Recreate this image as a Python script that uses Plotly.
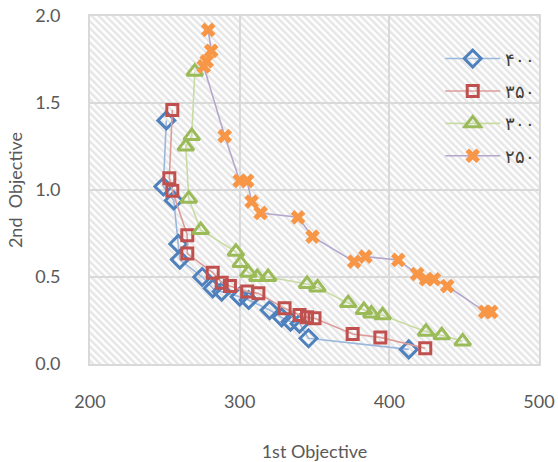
import base64
import plotly.graph_objects as go

# ---- data ----
names = ["۴۰۰", "۳۵۰", "۳۰۰", "۲۵۰"]

x400 = [251, 249, 256, 259, 260, 275, 282, 288, 300, 306, 320, 328, 334, 340, 346, 413]
y400 = [1.40, 1.02, 0.94, 0.69, 0.60, 0.50, 0.435, 0.416, 0.387, 0.368, 0.31, 0.268, 0.243, 0.232, 0.148, 0.084]

x350 = [255, 253, 255, 265, 265, 282, 288, 293.5, 305, 312.5, 330, 340, 345, 350, 375.5, 394, 424]
y350 = [1.46, 1.067, 0.996, 0.74, 0.635, 0.525, 0.467, 0.448, 0.416, 0.406, 0.32, 0.282, 0.268, 0.263, 0.172, 0.153, 0.09]

x300 = [270, 268, 264, 266, 274, 297.5, 300.7, 305.8, 311.8, 319, 345, 352, 372.5, 383, 388, 395.5, 424.5, 435, 449]
y300 = [1.68, 1.31, 1.25, 0.95, 0.77, 0.645, 0.58, 0.525, 0.50, 0.50, 0.46, 0.44, 0.35, 0.31, 0.29, 0.28, 0.186, 0.165, 0.13]

x250 = [279, 281, 278, 276, 290, 300, 305, 308, 314, 339, 348.7, 376.5, 384, 406, 418.6, 424.5, 429.8, 438.7, 464, 468]
y250 = [1.92, 1.80, 1.74, 1.71, 1.31, 1.053, 1.053, 0.933, 0.868, 0.843, 0.732, 0.588, 0.617, 0.598, 0.517, 0.487, 0.487, 0.448, 0.30, 0.30]

xticks = [200, 300, 400, 500]
yticks = [0.0, 0.5, 1.0, 1.5, 2.0]

series = [
    (x400, y400, names[0], "diamond-open", "#4F81BD", "#9AB7DC", 13, 3),
    (x350, y350, names[1], "square-open", "#C0504D", "#DB9C9A", 11, 3),
    (x300, y300, names[2], "triangle-up-open", "#9BBB59", "#C8DBA2", 14, 3),
    (x250, y250, names[3], "x", "#F79646", "#B4A6CC", 13, 0),
]

fig = go.Figure()
for i, (xs, ys, nm, sym, mc, lc, sz, lw) in enumerate(series):
    fig.add_trace(go.Scatter(
        x=xs, y=ys, name=nm, mode="lines+markers", legendgroup=f"g{i}",
        line=dict(color=lc, width=1.6),
        marker=dict(symbol=sym, size=sz, color=mc, line=dict(color=mc, width=lw)),
    ))

# hatched background pattern
W, H = 449, 348
svg = f'''<svg xmlns="http://www.w3.org/2000/svg" width="{W}" height="{H}" viewBox="0 0 {W} {H}" preserveAspectRatio="none">
<defs><pattern id="p" patternUnits="userSpaceOnUse" width="5" height="5" patternTransform="rotate(-45)">
<rect width="5" height="5" fill="white"/><rect width="2.5" height="5" fill="#e6e6e6"/></pattern></defs>
<rect width="{W}" height="{H}" fill="url(#p)"/></svg>'''
uri = "data:image/svg+xml;base64," + base64.b64encode(svg.encode()).decode()

font = "Lato, Open Sans, sans-serif"
fig.update_layout(
    width=558, height=462,
    margin=dict(l=90, r=19, t=16, b=98),
    paper_bgcolor="white", plot_bgcolor="white",
    font=dict(family=font, color="#595959", size=18),
    images=[dict(source=uri, xref="paper", yref="paper", x=0, y=1, sizex=1, sizey=1,
                 sizing="stretch", layer="below", xanchor="left", yanchor="top")],
    legend=dict(x=0.78, y=0.93, xanchor="left", yanchor="top", bgcolor="rgba(0,0,0,0)",
                font=dict(size=18, color="#404040"), itemwidth=55, tracegroupgap=6),
    showlegend=True,
)
fig.update_xaxes(range=[200, 500], tickvals=xticks, ticktext=[str(v) for v in xticks],
                 showgrid=True, gridcolor="#d9d9d9", gridwidth=2, zeroline=False,
                 showline=True, linecolor="#d9d9d9", linewidth=2, mirror=True,
                 ticks="", ticklabelstandoff=20, tickfont=dict(size=18, color="#595959"),
                 automargin=False,
                 title=dict(text="1st Objective", standoff=36, font=dict(size=18, color="#595959")))
fig.update_yaxes(range=[0, 2.0], tickvals=yticks, ticktext=[f"{v:.1f}" for v in yticks],
                 showgrid=True, gridcolor="#d9d9d9", gridwidth=2, zeroline=False,
                 showline=True, linecolor="#d9d9d9", linewidth=2, mirror=True,
                 ticks="", ticklabelstandoff=24, tickfont=dict(size=18, color="#595959"),
                 automargin=False,
                 title=dict(text="2nd  Objective", standoff=8, font=dict(size=18, color="#595959")))

fig.write_html("out.html")
